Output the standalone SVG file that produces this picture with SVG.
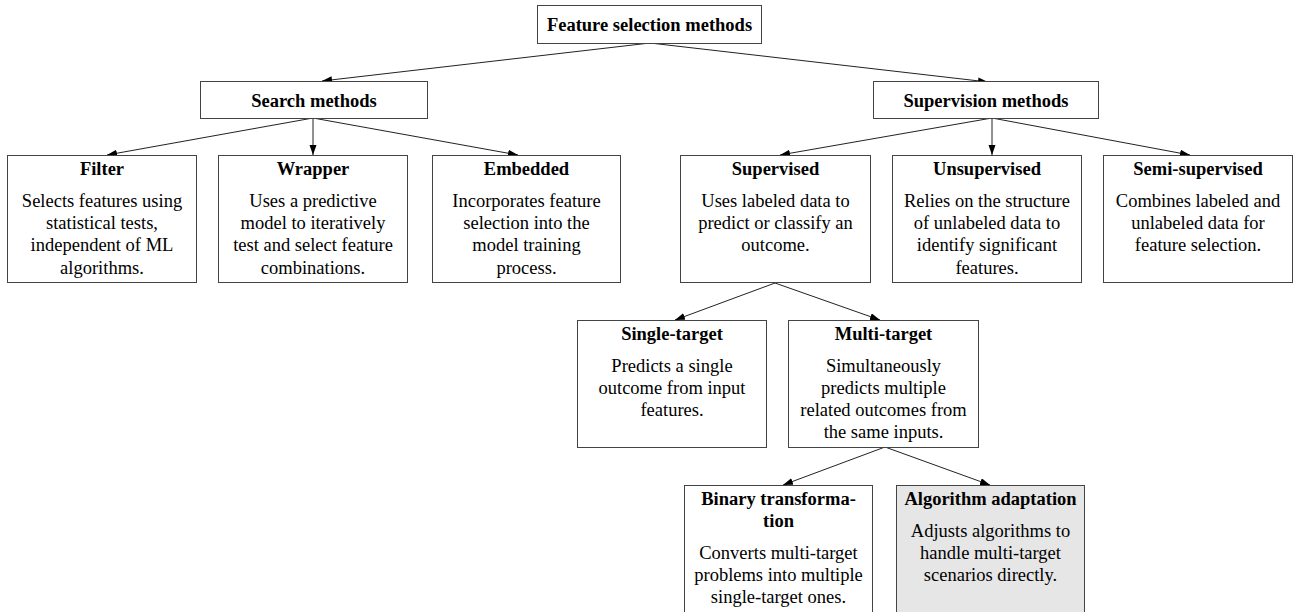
<svg xmlns="http://www.w3.org/2000/svg" width="1295" height="612" viewBox="0 0 1295 612">
<defs>
<marker id="arr" markerUnits="userSpaceOnUse" markerWidth="11" markerHeight="8" refX="10" refY="3.5" orient="auto">
<path d="M0,0 L10,3.5 L0,7 z" fill="#000"/>
</marker>
<style>
.box{fill:#fff;stroke:#444;stroke-width:1}
.hl{fill:#e6e6e6}
.t{font-family:"Liberation Serif","Times New Roman",serif;font-size:18.5px;font-weight:bold;text-anchor:middle;fill:#000}
.b{font-family:"Liberation Serif","Times New Roman",serif;font-size:18.5px;text-anchor:middle;fill:#000}
.e{stroke:#222;stroke-width:1;fill:none;marker-end:url(#arr)}
</style>
</defs>
<rect width="1295" height="612" fill="#fff"/>
<g id="connectors">
<line class="e" x1="650" y1="43" x2="322" y2="81"/>
<line class="e" x1="650" y1="43" x2="988" y2="82"/>
<line class="e" x1="313" y1="118" x2="107" y2="155"/>
<line class="e" x1="313" y1="118" x2="313" y2="155"/>
<line class="e" x1="313" y1="118" x2="518" y2="155"/>
<line class="e" x1="992" y1="118" x2="780" y2="155"/>
<line class="e" x1="992" y1="118" x2="992" y2="155"/>
<line class="e" x1="992" y1="118" x2="1190" y2="155"/>
<line class="e" x1="775" y1="283" x2="675" y2="320"/>
<line class="e" x1="775" y1="283" x2="880" y2="320"/>
<line class="e" x1="885" y1="447" x2="783" y2="485"/>
<line class="e" x1="885" y1="447" x2="990" y2="485"/>
</g>
<g id="root">
<rect class="box" x="537.5" y="5.5" width="224" height="38"/>
<text class="t" x="649.5" y="31">Feature selection methods</text>
</g>
<g id="search">
<rect class="box" x="200.5" y="81.5" width="227" height="37"/>
<text class="t" x="314" y="107">Search methods</text>
</g>
<g id="supervision">
<rect class="box" x="873.5" y="81.5" width="225" height="37"/>
<text class="t" x="986" y="107">Supervision methods</text>
</g>
<g id="filter">
<rect class="box" x="7.5" y="155.5" width="189" height="127"/>
<text class="t" x="102" y="175">Filter</text>
<text class="b" x="102" y="207">Selects features using</text>
<text class="b" x="102" y="229">statistical tests,</text>
<text class="b" x="102" y="251">independent of ML</text>
<text class="b" x="102" y="274">algorithms.</text>
</g>
<g id="wrapper">
<rect class="box" x="218.5" y="155.5" width="189" height="127"/>
<text class="t" x="313" y="175">Wrapper</text>
<text class="b" x="313" y="207">Uses a predictive</text>
<text class="b" x="313" y="229">model to iteratively</text>
<text class="b" x="313" y="251">test and select feature</text>
<text class="b" x="313" y="274">combinations.</text>
</g>
<g id="embedded">
<rect class="box" x="432.5" y="155.5" width="188" height="127"/>
<text class="t" x="526.5" y="175">Embedded</text>
<text class="b" x="526.5" y="207">Incorporates feature</text>
<text class="b" x="526.5" y="229">selection into the</text>
<text class="b" x="526.5" y="251">model training</text>
<text class="b" x="526.5" y="274">process.</text>
</g>
<g id="supervised">
<rect class="box" x="680.5" y="155.5" width="190" height="127"/>
<text class="t" x="775.5" y="175">Supervised</text>
<text class="b" x="775.5" y="207">Uses labeled data to</text>
<text class="b" x="775.5" y="229">predict or classify an</text>
<text class="b" x="775.5" y="251">outcome.</text>
</g>
<g id="unsupervised">
<rect class="box" x="892.5" y="155.5" width="189" height="127"/>
<text class="t" x="987" y="175">Unsupervised</text>
<text class="b" x="987" y="207">Relies on the structure</text>
<text class="b" x="987" y="229">of unlabeled data to</text>
<text class="b" x="987" y="251">identify significant</text>
<text class="b" x="987" y="274">features.</text>
</g>
<g id="semisupervised">
<rect class="box" x="1103.5" y="155.5" width="189" height="127"/>
<text class="t" x="1198" y="175">Semi-supervised</text>
<text class="b" x="1198" y="207">Combines labeled and</text>
<text class="b" x="1198" y="229">unlabeled data for</text>
<text class="b" x="1198" y="251">feature selection.</text>
</g>
<g id="singletarget">
<rect class="box" x="577.5" y="320.5" width="189" height="127"/>
<text class="t" x="672" y="340">Single-target</text>
<text class="b" x="672" y="372">Predicts a single</text>
<text class="b" x="672" y="394">outcome from input</text>
<text class="b" x="672" y="416">features.</text>
</g>
<g id="multitarget">
<rect class="box" x="788.5" y="320.5" width="190" height="127"/>
<text class="t" x="883.5" y="340">Multi-target</text>
<text class="b" x="883.5" y="372">Simultaneously</text>
<text class="b" x="883.5" y="394">predicts multiple</text>
<text class="b" x="883.5" y="416">related outcomes from</text>
<text class="b" x="883.5" y="438">the same inputs.</text>
</g>
<g id="binary">
<rect class="box" x="684.5" y="485.5" width="188" height="140"/>
<text class="t" x="778.5" y="505">Binary transforma-</text>
<text class="t" x="778.5" y="527">tion</text>
<text class="b" x="778.5" y="559">Converts multi-target</text>
<text class="b" x="778.5" y="581">problems into multiple</text>
<text class="b" x="778.5" y="603">single-target ones.</text>
</g>
<g id="algorithm">
<rect class="box hl" x="896.5" y="485.5" width="188" height="140"/>
<text class="t" x="990.5" y="505">Algorithm adaptation</text>
<text class="b" x="990.5" y="537">Adjusts algorithms to</text>
<text class="b" x="990.5" y="559">handle multi-target</text>
<text class="b" x="990.5" y="581">scenarios directly.</text>
</g>
</svg>
